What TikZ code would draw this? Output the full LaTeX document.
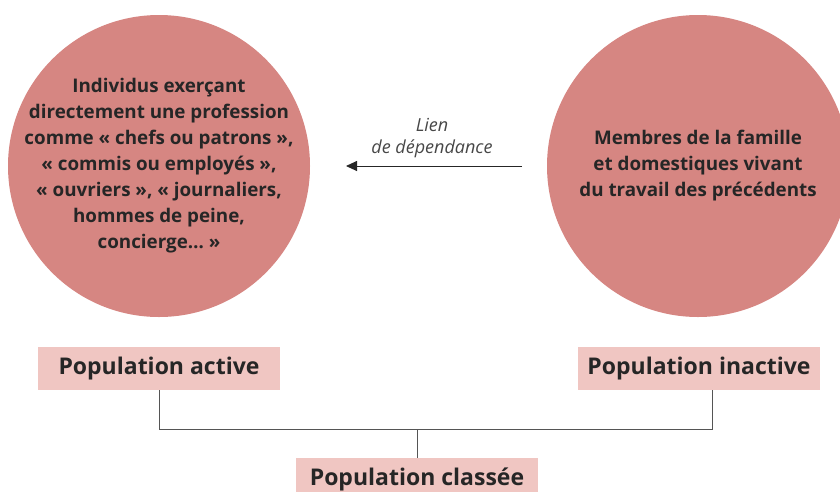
\documentclass[tikz,border=0pt]{standalone}
\usepackage{fontspec}
\setmainfont{Open Sans}
\usetikzlibrary{arrows.meta}
\definecolor{circfill}{HTML}{D68682}
\definecolor{boxfill}{HTML}{F0C6C2}
\definecolor{txt}{HTML}{262626}
\definecolor{linec}{HTML}{555555}
\tikzset{
  bigcirc/.style={circle, fill=circfill, minimum size=302pt, inner sep=0pt},
  circtext/.style={align=center, inner sep=0pt, font=\fontsize{18.8}{26}\selectfont\bfseries, text=txt},
  popbox/.style={fill=boxfill, minimum width=242pt, minimum height=43pt, inner sep=0pt,
    font=\fontsize{23}{24}\selectfont\bfseries, text=txt},
  conn/.style={draw=linec, line width=1pt},
  lbl/.style={font=\fontsize{18}{22}\selectfont\itshape, text=txt!85, align=center}
}
\begin{document}
\begin{tikzpicture}[x=1pt,y=-1pt]
\useasboundingbox (0,0) rectangle (840,491);
\clip (0,0) rectangle (840,491);
\node[bigcirc] (act) at (159,166) {};
\node[circtext] (acttxt) at (act.center) {Individus exerçant\\directement une profession\\comme « chefs ou patrons »,\\« commis ou employés »,\\« ouvriers », « journaliers,\\hommes de peine,\\concierge… »};
\node[bigcirc] (inact) at (698,166) {};
\node[circtext] (inacttxt) at (inact.center) {Membres de la famille\\et domestiques vivant\\du travail des précédents};
\coordinate (as) at (522,166);
\coordinate (ae) at (346,166);
\draw[conn, draw=txt, line width=0.9pt, -{Triangle[length=11pt,width=10pt]}] (as) -- (ae);
\node[lbl] (lien) at (432,138) {Lien\\de dépendance};
\node[popbox] (pa) at (159,368.5) {Population active};
\node[popbox] (pi) at (699,368.5) {Population inactive};
\node[popbox] (pc) at (417,479.5) {Population classée};
\coordinate (j1) at (159,429);
\coordinate (j2) at (712,429);
\coordinate (jm) at (417,429);
\draw[conn] (pa.south) -- (j1) -- (j2) -- (j2 |- pi.south);
\draw[conn] (jm) -- (pc.north);
\end{tikzpicture}
\end{document}
